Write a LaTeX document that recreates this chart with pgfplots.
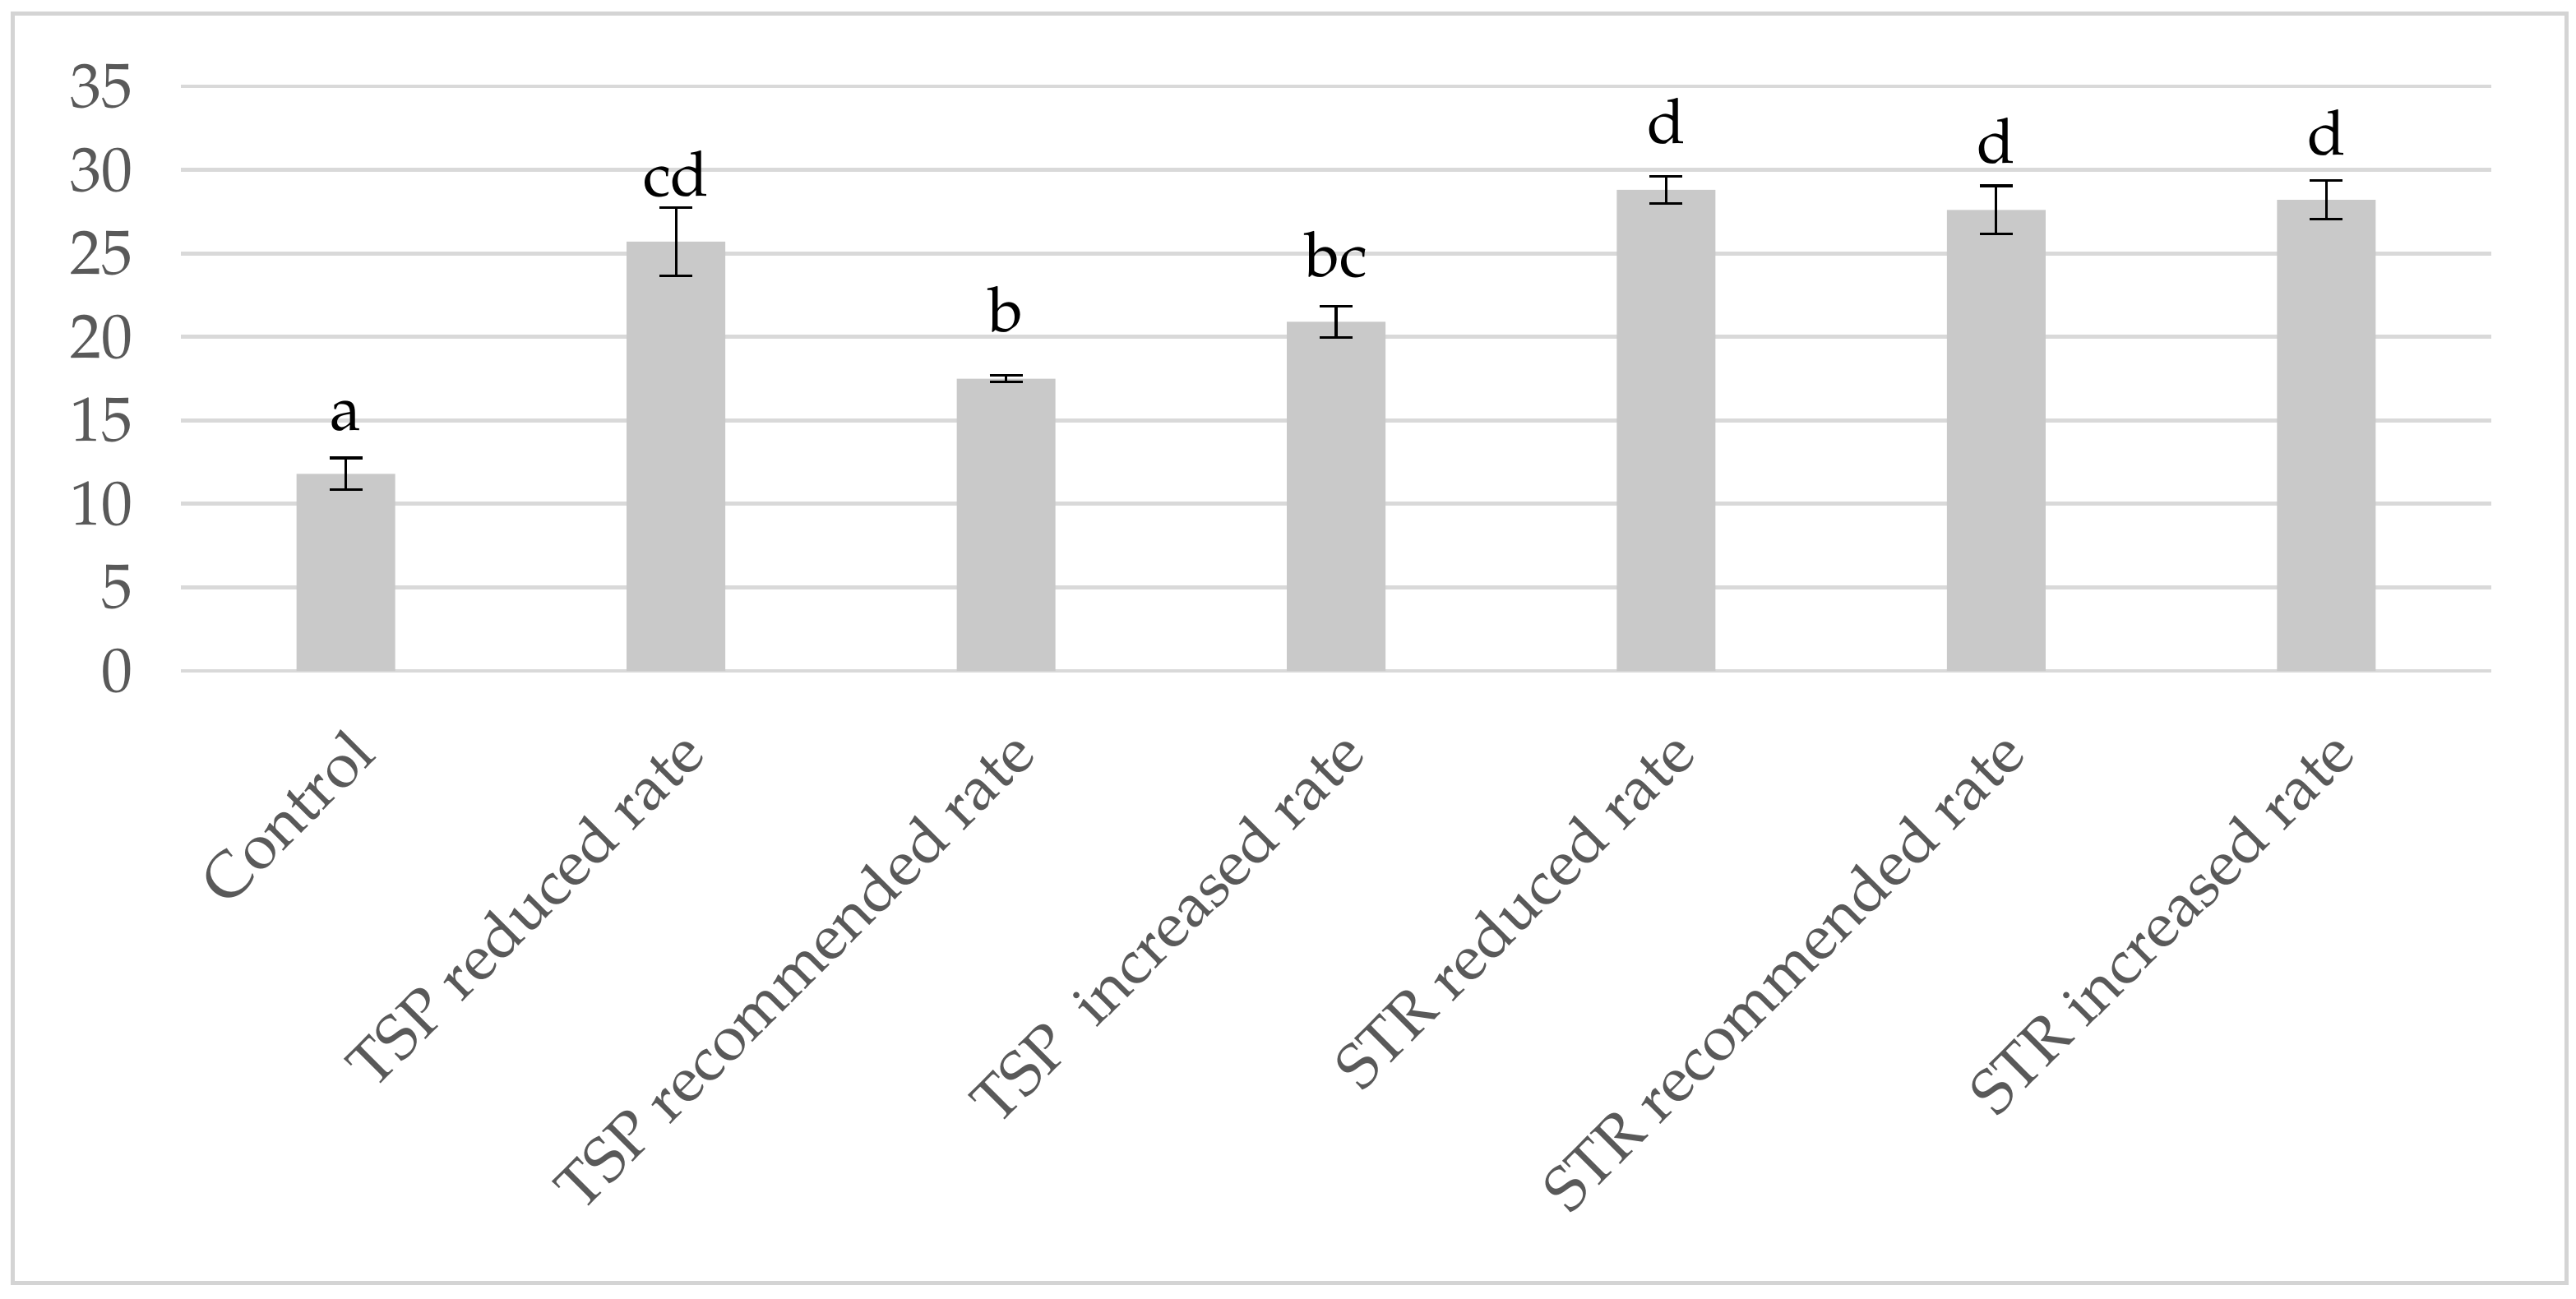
\documentclass[border=0pt]{standalone}
\usepackage{fontspec}
\setmainfont{TeX Gyre Pagella}
\usepackage{pgfplots}
\pgfplotsset{compat=1.18}

\definecolor{barfill}{HTML}{C9C9C9}
\definecolor{gridc}{HTML}{D9D9D9}
\definecolor{framec}{HTML}{D4D4D4}
\definecolor{labc}{HTML}{595959}

% x = category index, y = mean, e = error
\pgfplotstableread{
x y e
0 11.8 0.95
1 25.7 2.05
2 17.5 0.2
3 20.9 0.95
4 28.8 0.8
5 27.6 1.45
6 28.2 1.15
}\means

\begin{document}
\fontsize{19pt}{23pt}\selectfont
\begin{tikzpicture}
\useasboundingbox (-55pt,-190.75pt) rectangle (728.25pt,204pt);
\begin{axis}[
  scale only axis,
  width=702.5pt, height=177.75pt,
  xmin=-0.5, xmax=6.5,
  ymin=0, ymax=35,
  ytick={0,5,...,35},
  xtick=data,
  xticklabels={Control,TSP reduced rate,TSP recommended rate,TSP\ \ increased rate,STR reduced rate,STR recommended rate,STR increased rate},
  axis line style={draw=none},
  major tick style={draw=none},
  ymajorgrids,
  grid style={gridc, line width=1.2pt},
  /pgf/number format/assume math mode=true,
  yticklabel style={labc, font=\fontsize{19pt}{23pt}\selectfont, xshift=-8pt},
  xticklabel style={labc, font=\fontsize{19pt}{23pt}\selectfont, xshift=5pt, yshift=-17pt, rotate=45, anchor=east, inner sep=0pt},
  ybar, bar width=30pt,
  clip=false,
]
\addplot[ybar, fill=barfill, draw=none,
  error bars/.cd, y dir=both, y explicit,
  error bar style={black, line width=0.8pt},
  error mark options={rotate=90, black, mark size=5pt, line width=0.8pt}]
  table[x=x, y=y, y error=e] {\means};

\node[anchor=base] at (axis cs:0,14.4) {a};
\node[anchor=base] at (axis cs:1,28.45) {cd};
\node[anchor=base] at (axis cs:2,20.3) {b};
\node[anchor=base] at (axis cs:3,23.6) {bc};
\node[anchor=base] at (axis cs:4,31.6) {d};
\node[anchor=base] at (axis cs:5,30.4) {d};
\node[anchor=base] at (axis cs:6,30.9) {d};
\end{axis}
\draw[framec, line width=1.25pt] (-51pt,-186pt) rectangle (725.25pt,200pt);
\end{tikzpicture}
\end{document}
